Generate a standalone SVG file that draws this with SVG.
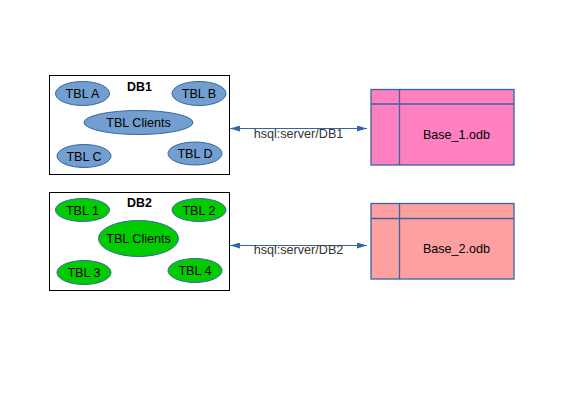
<svg xmlns="http://www.w3.org/2000/svg" width="567" height="401" viewBox="0 0 567 401">
<style>
text{font-family:"Liberation Sans",Arial,sans-serif;font-size:12.6px;fill:#000;text-anchor:middle}
.title{font-weight:bold;font-size:12.4px}
.db{fill:#fff;stroke:#000;stroke-width:1}
.blue{fill:#729fcf;stroke:#3465a4;stroke-width:1}
.green{fill:#00cc00;stroke:#3465a4;stroke-width:1}
.file{stroke:#3465a4;stroke-width:1.3}
.grid{stroke:#3465a4;stroke-width:1.3;fill:none}
.conn{stroke:#3465a4;stroke-width:1.2;fill:none}
.lbl{fill:#333}
</style>
<defs>
<marker id="ah" viewBox="0 0 10 6" refX="10" refY="3" markerWidth="10" markerHeight="6" markerUnits="userSpaceOnUse" orient="auto-start-reverse">
<path d="M0,0 L10,3 L0,6 Z" fill="#3465a4"/>
</marker>
</defs>
<rect width="567" height="401" fill="#fff"/>
<g id="db1">
<rect class="db" x="49.5" y="75.5" width="180" height="99"/>
<text class="title" x="139.5" y="91">DB1</text>
<g id="db1-tbl-a"><ellipse class="blue" cx="82.5" cy="93.5" rx="27" ry="12"/><text x="82.5" y="98">TBL A</text></g>
<g id="db1-tbl-b"><ellipse class="blue" cx="199" cy="93.5" rx="27" ry="12"/><text x="199" y="98">TBL B</text></g>
<g id="db1-tbl-clients"><ellipse class="blue" cx="138.5" cy="122.5" rx="54.5" ry="12"/><text x="138.5" y="127">TBL Clients</text></g>
<g id="db1-tbl-c"><ellipse class="blue" cx="84" cy="156" rx="27" ry="11.5"/><text x="84" y="160.5">TBL C</text></g>
<g id="db1-tbl-d"><ellipse class="blue" cx="195" cy="153.5" rx="27" ry="11.5"/><text x="195" y="158">TBL D</text></g>
</g>
<g id="db2">
<rect class="db" x="49.5" y="192.5" width="180" height="98"/>
<text class="title" x="139.5" y="207">DB2</text>
<g id="db2-tbl-1"><ellipse class="green" cx="82.5" cy="210" rx="27" ry="11.5"/><text x="82.5" y="214.5">TBL 1</text></g>
<g id="db2-tbl-2"><ellipse class="green" cx="199" cy="210" rx="27" ry="11.5"/><text x="199" y="214.5">TBL 2</text></g>
<g id="db2-tbl-clients"><ellipse class="green" cx="138.5" cy="238.5" rx="40" ry="18"/><text x="138.5" y="243">TBL Clients</text></g>
<g id="db2-tbl-3"><ellipse class="green" cx="84" cy="272.5" rx="27" ry="12"/><text x="84" y="277">TBL 3</text></g>
<g id="db2-tbl-4"><ellipse class="green" cx="195" cy="270.5" rx="27" ry="12"/><text x="195" y="275">TBL 4</text></g>
</g>
<g id="base1">
<rect class="file" fill="#ff80c0" x="371" y="89.5" width="143" height="75.5"/>
<path class="grid" d="M371,104 H514 M399.5,89.5 V165"/>
<text x="456.5" y="139">Base_1.odb</text>
</g>
<g id="base2">
<rect class="file" fill="#ffa0a0" x="371" y="203.5" width="143" height="75.5"/>
<path class="grid" d="M371,218.5 H514 M399.5,203.5 V279"/>
<text x="456.5" y="253">Base_2.odb</text>
</g>
<g id="connectors">
<line class="conn" x1="230" y1="128.5" x2="367" y2="128.5" marker-start="url(#ah)" marker-end="url(#ah)"/>
<text class="lbl" x="298.5" y="138">hsql:server/DB1</text>
<line class="conn" x1="230" y1="245.5" x2="367" y2="245.5" marker-start="url(#ah)" marker-end="url(#ah)"/>
<text class="lbl" x="298.5" y="254">hsql:server/DB2</text>
</g>
</svg>
